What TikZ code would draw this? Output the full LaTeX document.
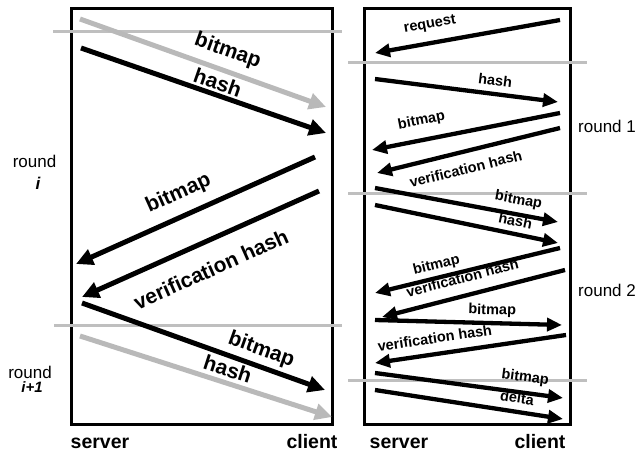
\documentclass[tikz,border=0pt]{standalone}
\usepackage{fontspec}
\setmainfont{Liberation Sans}
\usetikzlibrary{arrows.meta, positioning}
\tikzset{
    panel/.style = {draw, line width=3pt},
    divider/.style = {draw=gray!50, line width=3pt},
    bigmsg/.style = {draw, line width=5pt, -{Triangle[length=17pt, width=16pt]}},
    smallmsg/.style = {draw, line width=4.3pt, -{Triangle[length=15pt, width=13pt]}},
    faded/.style = {draw=gray!55},
    biglabel/.style = {font=\fontsize{21}{24}\selectfont\bfseries, inner sep=2pt, sloped},
    smalllabel/.style = {font=\fontsize{14.5}{16}\selectfont\bfseries, inner sep=1.5pt, sloped},
    sidetext/.style = {font=\fontsize{17}{20}\selectfont, anchor=base, inner sep=0pt},
    endtext/.style = {font=\fontsize{19.5}{22}\selectfont\bfseries, anchor=base, inner sep=0pt}
}
\begin{document}
\begin{tikzpicture}[x=1pt, y=-1pt]
    \useasboundingbox (0,0) rectangle (637,454);

    % panels
    \draw [panel] (71.5,9) rectangle (332.5,424.5);
    \draw [panel] (364.5,9) rectangle (570.5,424.5);

    % round borders
    \coordinate (d1a) at (53,32);   \coordinate (d1b) at (342,32);
    \coordinate (d2a) at (54,325);  \coordinate (d2b) at (342,325);
    \coordinate (d3a) at (348,63);  \coordinate (d3b) at (587,63);
    \coordinate (d4a) at (348,194); \coordinate (d4b) at (587,194);
    \coordinate (d5a) at (348,380); \coordinate (d5b) at (587,380);
    \draw [divider] (d1a) -- (d1b);
    \draw [divider] (d2a) -- (d2b);
    \draw [divider] (d3a) -- (d3b);
    \draw [divider] (d4a) -- (d4b);
    \draw [divider] (d5a) -- (d5b);

    % left panel
    \coordinate (a1s) at (80,19);   \coordinate (a1e) at (326,107);
    \coordinate (a2s) at (81,48);   \coordinate (a2e) at (326,133);
    \coordinate (a3s) at (315,157); \coordinate (a3e) at (76,264);
    \coordinate (a4s) at (319,191); \coordinate (a4e) at (82,297);
    \coordinate (a5s) at (82,303);  \coordinate (a5e) at (325,390);
    \coordinate (a6s) at (80,336);  \coordinate (a6e) at (332,417);

    \draw [bigmsg, faded] (a1s) -- node [name=a1l, biglabel, pos=0.574, above=5pt] {bitmap} (a1e);
    \draw [bigmsg] (a2s) -- node [name=a2l, biglabel, pos=0.542, above=0pt] {hash} (a2e);
    \draw [bigmsg] (a3s) -- node [name=a3l, biglabel, pos=0.533, above=8pt] {bitmap} (a3e);
    \draw [bigmsg] (a4s) -- node [name=a4l, biglabel, pos=0.503, below=15pt] {verification hash} (a4e);
    \draw [bigmsg] (a5s) -- node [name=a5l, biglabel, pos=0.715, above=2pt] {bitmap} (a5e);
    \draw [bigmsg, faded] (a6s) -- node [name=a6l, biglabel, pos=0.57, above=1.5pt] {hash} (a6e);

    % right panel
    \coordinate (r1s) at (560,20);   \coordinate (r1e) at (375,53);
    \coordinate (r2s) at (375,79);   \coordinate (r2e) at (558,102);
    \coordinate (r3s) at (560,113);  \coordinate (r3e) at (372,150);
    \coordinate (r4s) at (560,128);  \coordinate (r4e) at (377,173);
    \coordinate (r5s) at (375,188);  \coordinate (r5e) at (558,222);
    \coordinate (r6s) at (375,205);  \coordinate (r6e) at (558,243);
    \coordinate (r7s) at (560,248);  \coordinate (r7e) at (375,293);
    \coordinate (r8s) at (565,270);  \coordinate (r8e) at (382,317);
    \coordinate (r9s) at (375,320);  \coordinate (r9e) at (562,325);
    \coordinate (r10s) at (566,335); \coordinate (r10e) at (375,363);
    \coordinate (r11s) at (375,373); \coordinate (r11e) at (563,398);
    \coordinate (r12s) at (375,390); \coordinate (r12e) at (563,419);

    \draw [smallmsg] (r1s) -- node [name=r1l, smalllabel, pos=0.686, above=8pt] {request} (r1e);
    \draw [smallmsg] (r2s) -- node [name=r2l, smalllabel, pos=0.648, above=5pt] {hash} (r2e);
    \draw [smallmsg] (r3s) -- node [name=r3l, smalllabel, pos=0.717, above=8.5pt] {bitmap} (r3e);
    \draw [smallmsg] (r4s) -- node [name=r4l, smalllabel, pos=0.537, below=8pt] {verification hash} (r4e);
    \draw [smallmsg] (r5s) -- node [name=r5l, smalllabel, pos=0.77, above=3.5pt] {bitmap} (r5e);
    \draw [smallmsg] (r6s) -- node [name=r6l, smalllabel, pos=0.753, above=4pt] {hash} (r6e);
    \draw [smallmsg] (r7s) -- node [name=r7l, smalllabel, pos=0.652, above=2pt] {bitmap} (r7e);
    \draw [smallmsg] (r8s) -- node [name=r8l, smalllabel, pos=0.536, above=9pt] {verification hash} (r8e);
    \draw [smallmsg] (r9s) -- node [name=r9l, smalllabel, pos=0.625, above=2pt] {bitmap} (r9e);
    \draw [smallmsg] (r10s) -- node [name=r10l, smalllabel, pos=0.675, above=7pt] {verification hash} (r10e);
    \draw [smallmsg] (r11s) -- node [name=r11l, smalllabel, pos=0.788, above=4.5pt] {bitmap} (r11e);
    \draw [smallmsg] (r12s) -- node [name=r12l, smalllabel, pos=0.745, above=5pt] {delta} (r12e);

    % round labels
    \node [name=roundi, sidetext] at (34.5,168) {round};
    \node [name=idxi, sidetext, font=\fontsize{17}{20}\selectfont\bfseries\itshape] at (38,190) {i};
    \node [name=roundj, sidetext] at (30,378) {round};
    \node [name=idxj, sidetext, font=\fontsize{15}{18}\selectfont\bfseries\itshape] at (32,392) {i+1};
    \node [name=round1, sidetext, anchor=base west] at (578,133) {round 1};
    \node [name=round2, sidetext, anchor=base west] at (578,297) {round 2};

    % end points
    \node [name=srvl, endtext] at (100,448) {server};
    \node [name=clil, endtext] at (312,448) {client};
    \node [name=srvr, endtext] at (399,448) {server};
    \node [name=clir, endtext] at (540,448) {client};
\end{tikzpicture}
\end{document}
